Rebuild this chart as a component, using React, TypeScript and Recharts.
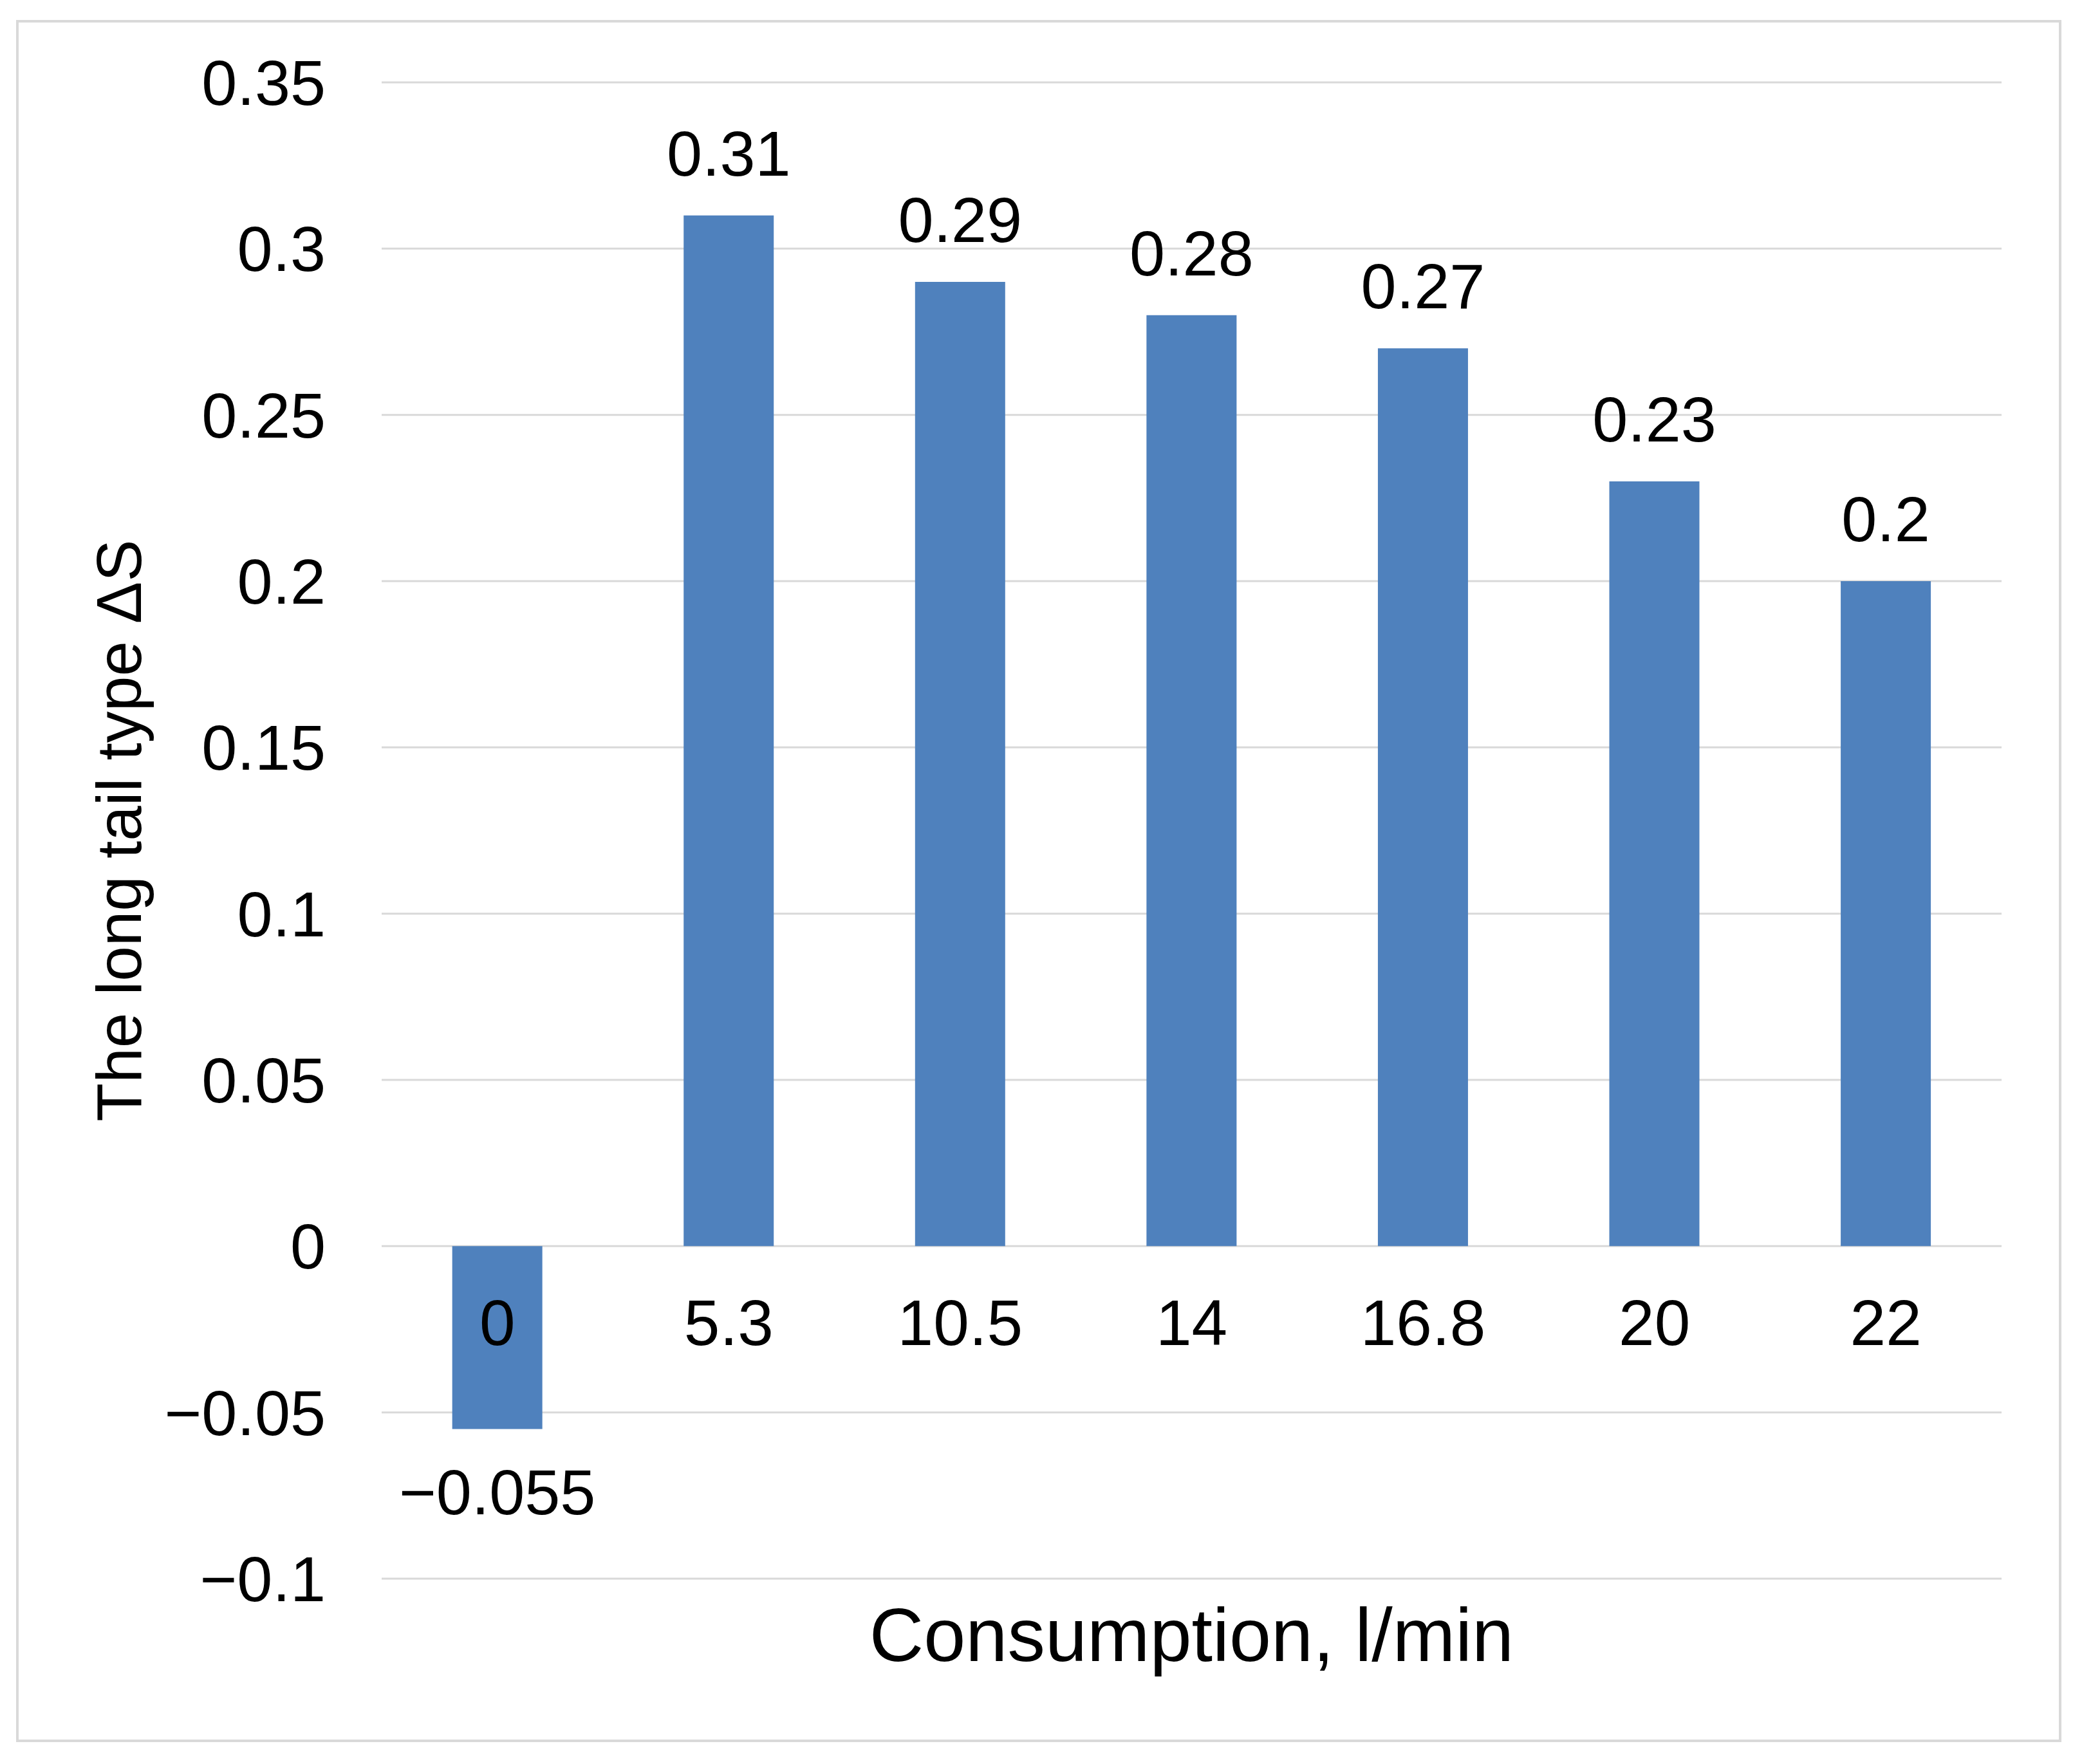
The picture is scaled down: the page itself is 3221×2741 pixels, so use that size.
import React from "react";
import { BarChart, Bar, XAxis, YAxis, CartesianGrid, LabelList, Text } from "recharts";

// flow rate categories (l/min) and the long-tail ΔS values
const categories = ["0", "5.3", "10.5", "14", "16.8", "20", "22"];
const deltaS = [-0.055, 0.31, 0.29, 0.28, 0.27, 0.23, 0.2];
const yTicks = [-0.1, -0.05, 0, 0.05, 0.1, 0.15, 0.2, 0.25, 0.3, 0.35];

const data = categories.map((c, i) => ({ cat: c, value: deltaS[i] }));

const W = 3221;
const H = 2741;
const margin = { top: 128, right: 111, bottom: 88, left: 180 };
const Y_AXIS_W = 413;
const X_AXIS_H = 200;
const Y_MIN = -0.1;
const Y_MAX = 0.35;
const plotH = H - margin.top - margin.bottom - X_AXIS_H;
// distance from bottom of plot to the zero line, category labels sit there
const zeroFromBottom = (plotH * (0 - Y_MIN)) / (Y_MAX - Y_MIN);

const FONT = "'Liberation Sans', Arial, sans-serif";
const fmt = (v: any) => String(v).replace("-", "\u2212");

const CategoryTick = (props: any) => {
  const { x, y, payload } = props;
  return (
    <Text
      x={x}
      y={y - zeroFromBottom + 83}
      textAnchor="middle"
      verticalAnchor="start"
      fontSize={100}
      fontFamily={FONT}
      fill="#000"
    >
      {payload.value}
    </Text>
  );
};

export default function App() {
  return (
    <div style={{ position: "absolute", left: 0, top: 0, width: W, height: H, background: "#fff" }}>
      {/* outer frame */}
      <div
        style={{
          position: "absolute",
          left: 25,
          top: 31,
          width: 3178,
          height: 2676,
          border: "4px solid #d9d9d9",
          boxSizing: "border-box",
        }}
      />
      <div style={{ position: "absolute", left: 0, top: 0 }}>
        <BarChart width={W} height={H} data={data} margin={margin} barCategoryGap="30.5%">
          <CartesianGrid vertical={false} stroke="#d9d9d9" strokeWidth={3} />
          <YAxis
            type="number"
            domain={[Y_MIN, Y_MAX]}
            ticks={yTicks}
            width={Y_AXIS_W}
            axisLine={false}
            tickLine={false}
            tickSize={0}
            tickMargin={87}
            tickFormatter={fmt}
            tick={{ fontSize: 99, fill: "#000", fontFamily: FONT }}
            label={{
              value: "The long tail type \u0394S",
              angle: -90,
              position: "insideLeft",
              offset: 4,
              fontSize: 98,
              fill: "#000",
              fontFamily: FONT,
              style: { textAnchor: "middle" },
            }}
          />
          <Bar dataKey="value" fill="#4F81BD" isAnimationActive={false}>
            <LabelList
              dataKey="value"
              position="top"
              offset={62}
              formatter={fmt}
              fontSize={99}
              fill="#000"
              fontFamily={FONT}
            />
          </Bar>
          <XAxis
            dataKey="cat"
            height={X_AXIS_H}
            axisLine={false}
            tickLine={false}
            tickSize={0}
            tickMargin={0}
            interval={0}
            tick={<CategoryTick />}
            label={{
              value: "Consumption, l/min",
              position: "insideBottom",
              offset: 72,
              fontSize: 117,
              fill: "#000",
              fontFamily: FONT,
            }}
          />
        </BarChart>
      </div>
    </div>
  );
}
